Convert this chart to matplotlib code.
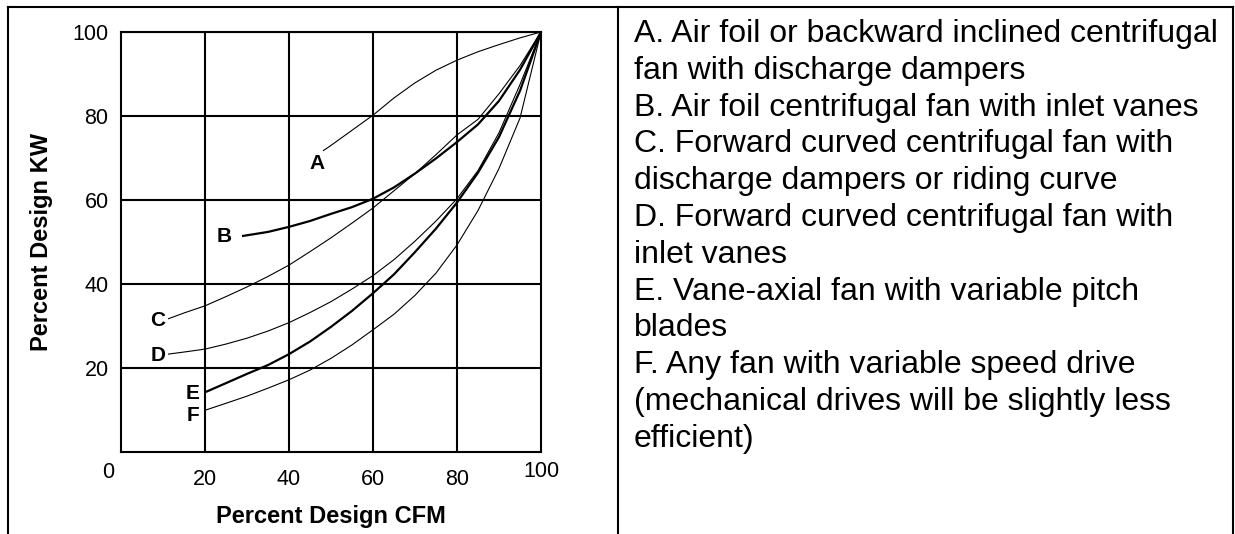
import matplotlib.pyplot as plt
from matplotlib.lines import Line2D

plt.rcParams['font.family'] = ['Liberation Sans', 'DejaVu Sans']

# part-load curves, percent design CFM vs percent design KW
a_cfm = [48.1, 50, 55, 60, 65, 70, 75, 80, 85, 90, 95, 100]
a_kw = [71.7, 73.0, 76.6, 80.2, 84.3, 87.9, 90.9, 93.3, 95.3, 97.0, 98.6, 100]

b_cfm = [28.8, 30, 35, 40, 45, 50, 55, 60, 65, 70, 75, 80, 85, 90, 95, 100]
b_kw = [51.4, 51.6, 52.4, 53.6, 55.0, 56.7, 58.3, 60.3, 63.0, 66.3, 69.9, 73.8, 78.0, 83.6, 91.0, 100]

c_cfm = [11.2, 15, 20, 25, 30, 35, 40, 45, 50, 55, 60, 65, 70, 75, 80, 85, 90, 95, 100]
c_kw = [31.7, 33.1, 34.8, 37.0, 39.3, 41.8, 44.5, 47.7, 51.0, 54.5, 58.1, 62.2, 66.3, 70.8, 75.5, 79.2, 85.3, 92.0, 100]

d_cfm = [11.2, 15, 20, 25, 30, 35, 40, 45, 50, 55, 60, 65, 70, 75, 80, 85, 90, 95, 100]
d_kw = [23.3, 23.8, 24.5, 25.7, 27.1, 28.8, 30.8, 33.2, 35.8, 38.8, 42.0, 45.8, 50.2, 55.0, 60.3, 67.0, 76.0, 87.5, 100]

e_cfm = [20.2, 25, 30, 35, 40, 45, 50, 55, 60, 65, 70, 75, 80, 85, 90, 95, 100]
e_kw = [14.3, 16.4, 18.6, 20.7, 23.3, 26.3, 29.8, 33.6, 37.8, 42.3, 47.6, 53.2, 59.4, 66.5, 75.0, 86.0, 100]

f_cfm = [20.2, 25, 30, 35, 40, 45, 50, 55, 60, 65, 70, 75, 80, 85, 90, 95, 100]
f_kw = [10.0, 11.6, 13.3, 15.2, 17.2, 19.5, 22.3, 25.5, 29.1, 32.8, 37.3, 42.6, 49.3, 57.5, 67.5, 79.5, 100]

curves = [
    ("A", a_cfm, a_kw, 0.8, (46.7, 68.6)),
    ("B", b_cfm, b_kw, 1.6, (24.5, 51.4)),
    ("C", c_cfm, c_kw, 0.8, (8.8, 31.4)),
    ("D", d_cfm, d_kw, 0.8, (8.8, 22.9)),
    ("E", e_cfm, e_kw, 1.6, (17.1, 14.0)),
    ("F", f_cfm, f_kw, 0.8, (17.1, 8.6)),
]

descriptions = [
    "A. Air foil or backward inclined centrifugal",
    "fan with discharge dampers",
    "B. Air foil centrifugal fan with inlet vanes",
    "C. Forward curved centrifugal fan with",
    "discharge dampers or riding curve",
    "D. Forward curved centrifugal fan with",
    "inlet vanes",
    "E. Vane-axial fan with variable pitch",
    "blades",
    "F. Any fan with variable speed drive",
    "(mechanical drives will be slightly less",
    "efficient)",
]

W, H = 1235, 534
fig = plt.figure(figsize=(W / 100, H / 100), dpi=100)
ax = fig.add_axes([121 / W, (H - 452) / H, 420 / W, 420 / H])

for name, xs, ys, lw, pos in curves:
    ax.plot(xs, ys, color='black', lw=lw, solid_capstyle='butt', solid_joinstyle='round')
    ax.text(pos[0], pos[1], name, fontsize=15, fontweight='bold',
            ha='center', va='center')

ax.set_xlim(0, 100)
ax.set_ylim(0, 100)
ax.set_xticks([20, 40, 60, 80])
ax.set_yticks([20, 40, 60, 80, 100])
ax.grid(True, color='black', lw=1.5)
ax.tick_params(length=0, labelsize=15.5, colors='black')
ax.tick_params(axis='x', pad=12)
ax.tick_params(axis='y', pad=9)
for s in ax.spines.values():
    s.set_linewidth(1.5)

# end labels sit a little higher than the other x ticks
ax.text(-3.1, -4.9, "0", fontsize=15.5, ha='center', va='center', clip_on=False)
ax.text(100, -4.6, "100", fontsize=15.5, ha='center', va='center', clip_on=False)

ax.set_xlabel("Percent Design CFM", fontsize=17, fontweight='bold', labelpad=11)
ax.set_ylabel("Percent Design KW", fontsize=17, fontweight='bold', labelpad=14)

# outer table frame
frame_kw = dict(color='black', lw=1.5, transform=fig.transFigure)
for x0, y0, x1, y1 in [(8, 7, 1233, 7), (8, 7, 8, 534), (618, 7, 618, 534), (1233, 7, 1233, 534)]:
    fig.add_artist(Line2D([x0 / W, x1 / W], [1 - y0 / H, 1 - y1 / H], **frame_kw))

for i, line in enumerate(descriptions):
    y = 34 + i * 36.8
    fig.text(634 / W, 1 - y / H, line, fontsize=23, ha='left', va='center')

fig.savefig("out.png", dpi=100)
